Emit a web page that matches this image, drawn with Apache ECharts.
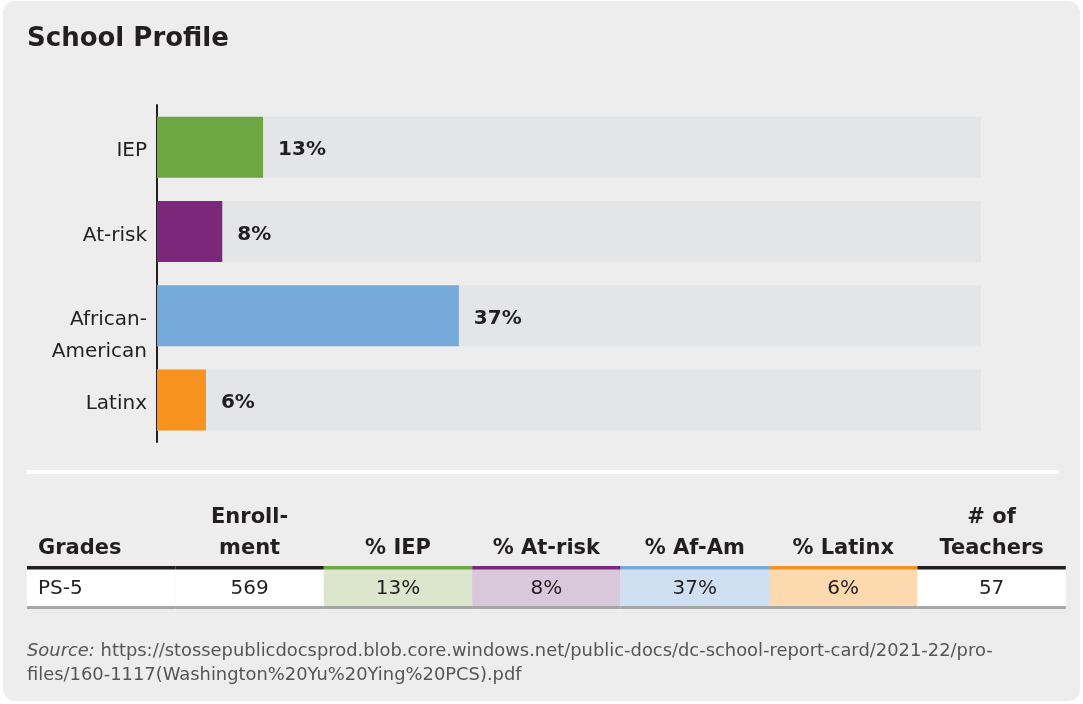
<!DOCTYPE html>
<html>
<head>
<meta charset="utf-8">
<script src="https://cdn.jsdelivr.net/npm/echarts@6/dist/echarts.min.js"></script>
<style>
  html, body { margin: 0; padding: 0; background: #ffffff; }
  #main { width: 1083px; height: 704px; }
</style>
</head>
<body>
<div id="main"></div>
<script>
// bar chart data
var categories = ['IEP', 'At-risk', 'African-\nAmerican', 'Latinx'];
var values = [13, 8, 37, 6];
var barColors = ['#6ca743', '#7b287a', '#74a9da', '#f7931e'];

// table data
var tableHeaders = ['Grades', 'Enroll-\nment', '% IEP', '% At-risk', '% Af-Am', '% Latinx', '# of\nTeachers'];
var tableRow = ['PS-5', '569', '13%', '8%', '37%', '6%', '57'];
var cellFills = ['#ffffff', '#ffffff', '#dce6cc', '#d9c7dc', '#cfe0f2', '#fdd9b0', '#ffffff'];
var cellTops = ['#231f20', '#231f20', '#6ca743', '#7b287a', '#74a9da', '#f39325', '#231f20'];

var sourceLine1 = 'https://stossepublicdocsprod.blob.core.windows.net/public-docs/dc-school-report-card/2021-22/pro-';
var sourceLine2 = 'files/160-1117(Washington%20Yu%20Ying%20PCS).pdf';

var font = '"DejaVu Sans", Verdana, sans-serif';
var ink = '#231f20';

var myChart = echarts.init(document.getElementById('main'));

// panel + separator + title + source
var graphics = [
  { type: 'rect', z: -10, shape: { x: 3, y: 1, width: 1077, height: 700, r: 12 }, style: { fill: '#ededed' } },
  { type: 'rect', shape: { x: 27, y: 470, width: 1032, height: 4 }, style: { fill: '#ffffff' } },
  { type: 'text', x: 27, y: 39, style: { text: 'School Profile', font: 'bold 26px ' + font, fill: ink, verticalAlign: 'middle' } },
  { type: 'text', x: 27, y: 651, style: { text: '{i|Source:} ' + sourceLine1, font: '17.9px ' + font, fill: '#555555', verticalAlign: 'middle',
      rich: { i: { fontStyle: 'italic', fontSize: 17.9, fontFamily: font, fill: '#555555' } } } },
  { type: 'text', x: 27, y: 675, style: { text: sourceLine2, font: '17.9px ' + font, fill: '#555555', verticalAlign: 'middle' } }
];

// table built from the arrays
var tLeft = 27, colW = 148.4, rowTop = 569, rowH = 37;
for (var i = 0; i < tableHeaders.length; i++) {
  var x0 = tLeft + i * colW;
  var left = i === 0;
  graphics.push({ type: 'rect', shape: { x: x0, y: rowTop, width: colW, height: rowH }, style: { fill: cellFills[i] } });
  graphics.push({ type: 'rect', shape: { x: x0, y: rowTop - 3, width: colW, height: 3.5 }, style: { fill: cellTops[i] } });
  graphics.push({ type: 'rect', shape: { x: x0, y: rowTop + rowH, width: colW, height: 3 }, style: { fill: '#a6a6a6' } });
  graphics.push({ type: 'text', x: left ? x0 + 11 : x0 + colW / 2, y: 564, style: {
    text: tableHeaders[i], font: 'bold 21px ' + font, fill: ink, lineHeight: 31,
    align: left ? 'left' : 'center', verticalAlign: 'bottom' } });
  graphics.push({ type: 'text', x: left ? x0 + 11 : x0 + colW / 2, y: rowTop + rowH / 2 + 1, style: {
    text: tableRow[i], font: '20px ' + font, fill: ink,
    align: left ? 'left' : 'center', verticalAlign: 'middle' } });
}

var option = {
  backgroundColor: 'transparent',
  animation: false,
  grid: { left: 157, top: 105, width: 824, height: 337 },
  xAxis: {
    type: 'value', min: 0, max: 101,
    show: false
  },
  yAxis: {
    type: 'category',
    inverse: true,
    data: categories,
    axisLine: { show: true, lineStyle: { color: ink, width: 2 } },
    axisTick: { show: false },
    axisLabel: {
      color: ink, fontSize: 20, fontFamily: font, margin: 10, lineHeight: 32,
      // two-line label sits lower, first line level with the bar
      formatter: function(v) {
        var lines = v.split('\n');
        if (lines.length > 1) {
          return '{e| }\n' + lines.map(function(s) { return '{c|' + s + '}'; }).join('\n');
        }
        return '{a|' + v + '}';
      },
      rich: {
        a: { fontSize: 20, fontFamily: font, color: ink, lineHeight: 32, padding: [8, 0, 0, 0] },
        e: { fontSize: 20, fontFamily: font, color: ink, lineHeight: 40 },
        c: { fontSize: 20, fontFamily: font, color: ink, lineHeight: 32 }
      }
    }
  },
  series: [{
    type: 'bar',
    barWidth: 61,
    data: values.map(function(v, i) { return { value: v, itemStyle: { color: barColors[i] } }; }),
    showBackground: true,
    backgroundStyle: { color: '#e4e5e7' },
    label: {
      show: true, position: 'right', distance: 15, offset: [0, 3],
      formatter: '{c}%', color: ink, fontSize: 20, fontWeight: 'bold', fontFamily: font
    }
  }],
  graphic: graphics
};
myChart.setOption(option);
</script>
</body>
</html>
